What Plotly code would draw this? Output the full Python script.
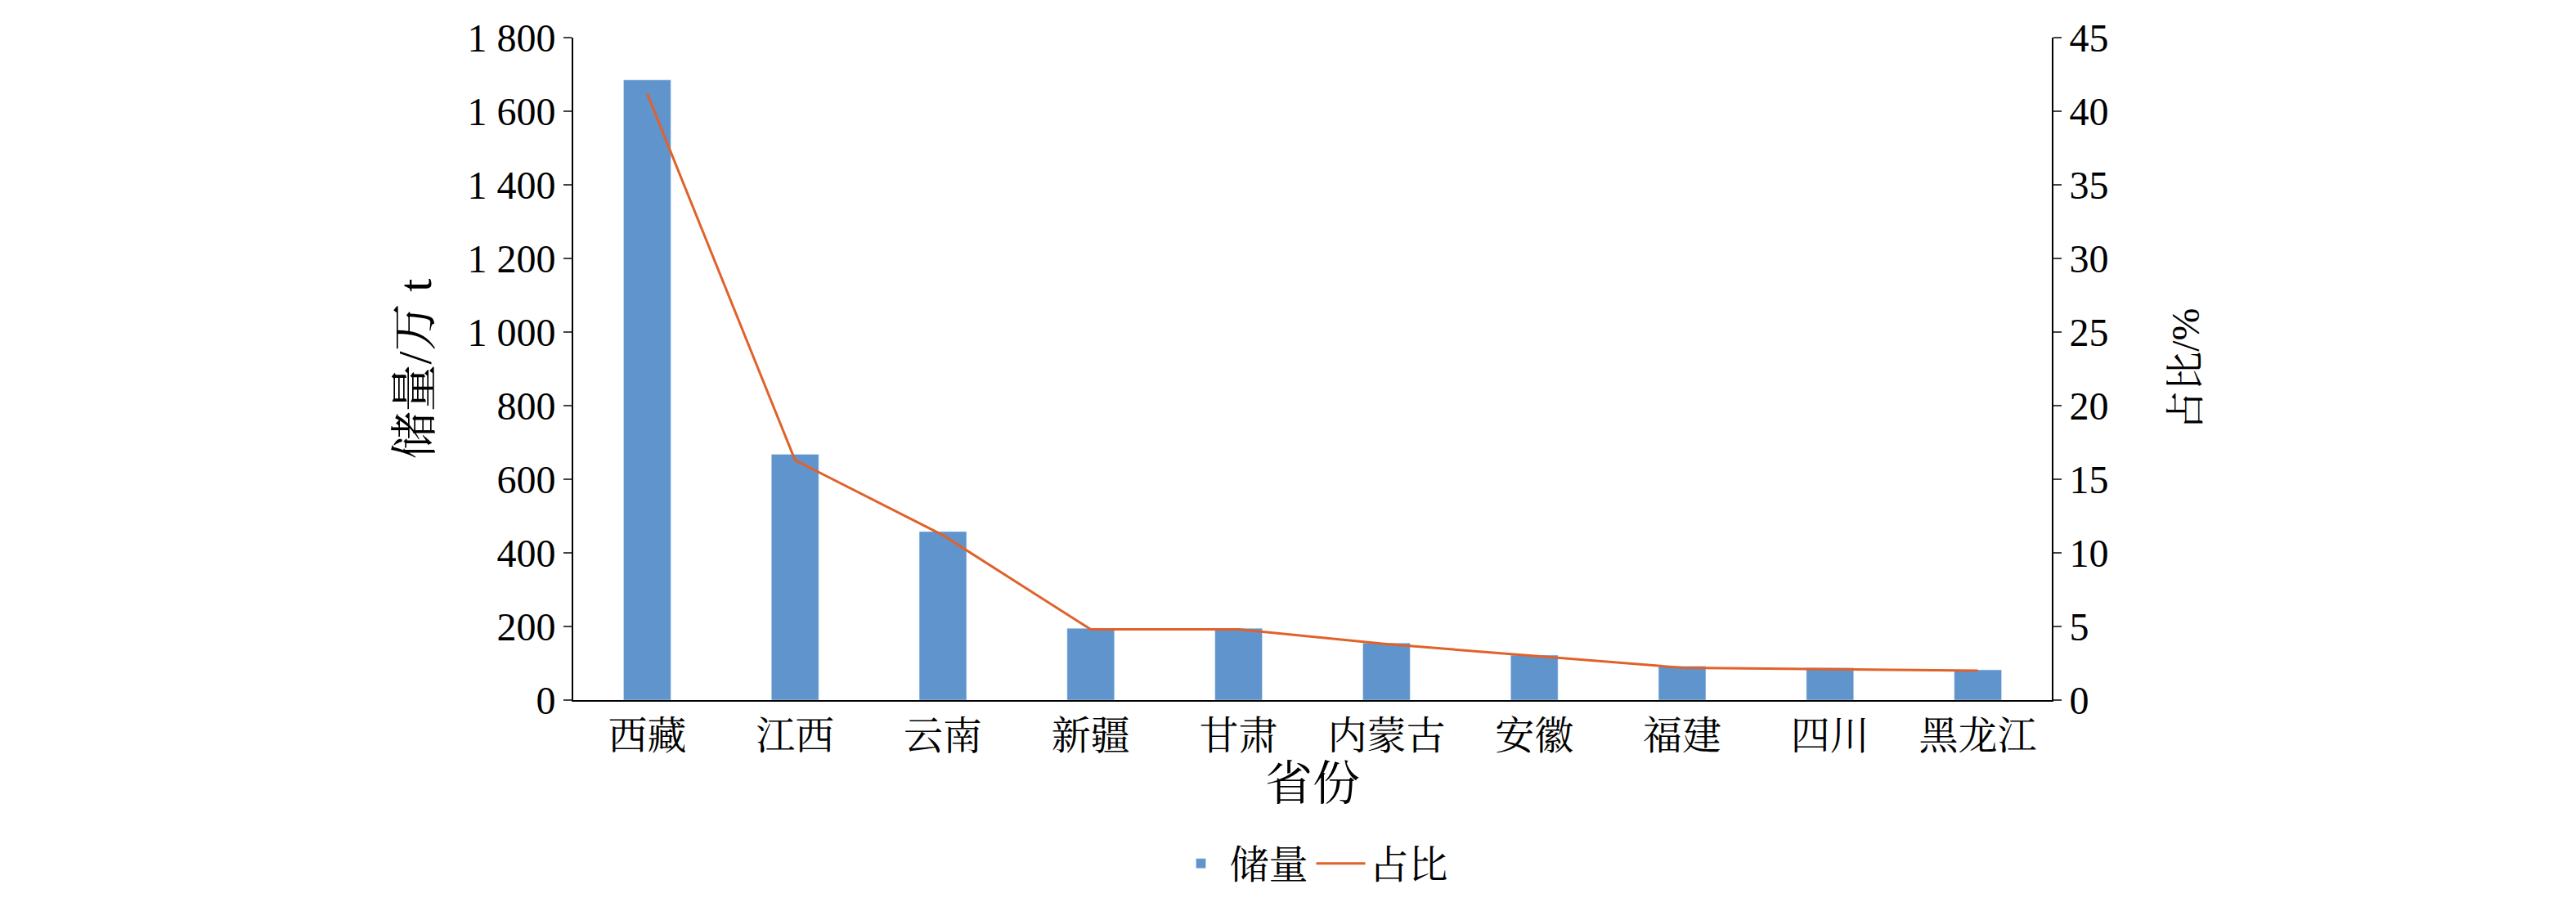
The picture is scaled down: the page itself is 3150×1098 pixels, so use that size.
import plotly.graph_objects as go

provinces = ["西藏", "江西", "云南", "新疆", "甘肃", "内蒙古", "安徽", "福建", "四川", "黑龙江"]
reserves = [1685, 668, 458, 195, 195, 155, 122, 92, 88, 82]
share = [41.2, 16.3, 11.2, 4.8, 4.8, 3.8, 3.0, 2.2, 2.1, 2.0]
left_ticks = [0, 200, 400, 600, 800, 1000, 1200, 1400, 1600, 1800]
left_text = ["0", "200", "400", "600", "800", "1 000", "1 200", "1 400", "1 600", "1 800"]
right_ticks = [0, 5, 10, 15, 20, 25, 30, 35, 40, 45]

font = "Liberation Serif, Noto Serif CJK SC, Noto Sans CJK SC"
fig = go.Figure()
fig.add_bar(x=provinces, y=reserves, name="储量", marker_color="#6094CD", width=0.32)
fig.add_scatter(x=provinces, y=share, name="占比", yaxis="y2", mode="lines",
                line=dict(color="#E0622A", width=3))
fig.update_layout(
    width=3150, height=1098, plot_bgcolor="white", paper_bgcolor="white",
    font=dict(family=font, size=48, color="black"),
    margin=dict(l=693, r=649, t=28, b=238 - 44),
    xaxis=dict(showline=True, linecolor="black", linewidth=2, ticks="",
               title=dict(text="省份", standoff=4)),
    yaxis=dict(range=[0, 1800], tickvals=left_ticks, ticktext=left_text,
               showline=True, linecolor="black", linewidth=2, ticks="outside",
               ticklen=10, tickwidth=2, showgrid=False, zeroline=False,
               title=dict(text="储量/万 t", standoff=25)),
    yaxis2=dict(range=[0, 45], tickvals=right_ticks, overlaying="y", side="right",
                showline=True, linecolor="black", linewidth=2, ticks="outside",
                ticklen=10, tickwidth=2, showgrid=False, zeroline=False),
    annotations=[dict(text="占比/%", textangle=-90, xref="paper", yref="paper",
                      x=1.09, y=0.5, xanchor="center", yanchor="middle",
                      showarrow=False, font=dict(size=48))],
    legend=dict(orientation="h", x=0.5, xanchor="center", y=-0.2, yanchor="top",
                font=dict(size=48), itemwidth=60),
)
fig.write_html("out.html")
